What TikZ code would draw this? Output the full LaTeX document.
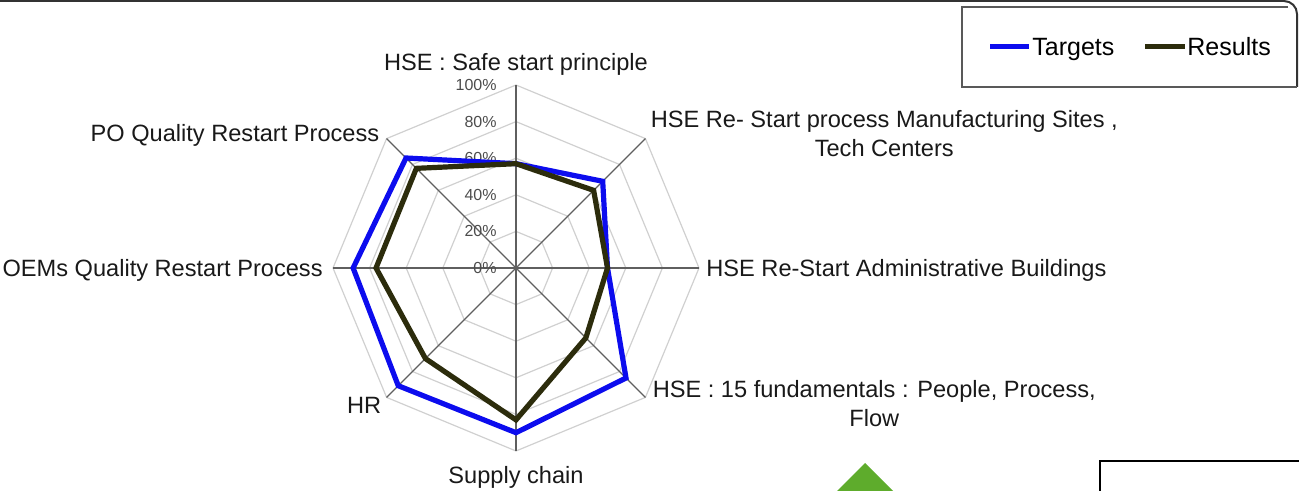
\documentclass[tikz,border=0pt]{standalone}
\usepackage{fontspec}
\setmainfont{Liberation Sans}
\usetikzlibrary{positioning}
\definecolor{tgtblue}{RGB}{12,12,238}
\definecolor{resolive}{RGB}{44,44,12}
\definecolor{gridgray}{RGB}{208,208,208}
\definecolor{axisgray}{RGB}{95,95,95}
\definecolor{leafgreen}{RGB}{94,172,44}
\tikzset{
  catlabel/.style={font=\fontsize{11.8}{14.5}\selectfont, text=black!90, inner sep=0pt, align=center},
  pctlabel/.style={font=\fontsize{8}{9}\selectfont, text=black!70, anchor=east, inner sep=0pt},
  series/.style={line width=2.6pt, miter limit=4},
  legtext/.style={font=\fontsize{12.5}{15}\selectfont, inner sep=0pt, anchor=base west},
}
\begin{document}
\begin{tikzpicture}[x=0.5pt,y=0.5pt]
\useasboundingbox (0,0) rectangle (1299,491);
\def\R{183}
\coordinate (c) at (516,223);
% rings
\foreach \k in {1,...,5}{
  \pgfmathsetmacro\r{\k*\R/5}
  \draw[gridgray, line width=0.6pt, shift={(c)}] (90:\r)--(45:\r)--(0:\r)--(-45:\r)--(-90:\r)--(-135:\r)--(180:\r)--(135:\r)--cycle;
}
% axes
\foreach \a/\n in {90/N,45/NE,0/E,-45/SE,-90/S,-135/SW,180/W,135/NW}
  \draw[axisgray, line width=0.6pt] (c)--++(\a:\R) coordinate (e\n);
% percent scale
\foreach \k/\p in {0/0,1/20,2/40,3/60,4/80,5/100}
  \path (c) ++(-19,{\k*\R/5}) node[pctlabel] (pct\p) {\p\%};
% data
\draw[series, tgtblue, shift={(c)}] (90:{0.57*\R})--(45:{0.67*\R})--(0:{0.50*\R})--(-45:{0.85*\R})--(-90:{0.90*\R})--(-135:{0.91*\R})--(180:{0.89*\R})--(135:{0.85*\R})--cycle;
\draw[series, resolive, shift={(c)}] (90:{0.57*\R})--(45:{0.60*\R})--(0:{0.50*\R})--(-45:{0.54*\R})--(-90:{0.83*\R})--(-135:{0.70*\R})--(180:{0.765*\R})--(135:{0.77*\R})--cycle;
% category labels
\node[catlabel, above=4.5pt of eN] (lN) {HSE : Safe start principle};
\node[catlabel, right=2.5pt of eNE, yshift=2.75pt] (lNE) {HSE Re- Start process Manufacturing Sites ,\\Tech Centers};
\node[catlabel, right=3.5pt of eE, yshift=-1pt] (lE) {HSE Re-Start Administrative Buildings};
\node[catlabel, right=3.5pt of eSE, yshift=-3pt] (lSE) {HSE : 15 fundamentals : People, Process,\\Flow};
\node[catlabel, below=7.5pt of eS] (lS) {Supply chain};
\node[catlabel, left=2.5pt of eSW, yshift=-4pt] (lSW) {HR};
\node[catlabel, left=5pt of eW, yshift=-1pt] (lW) {OEMs Quality Restart Process};
\node[catlabel, left=3.5pt of eNW, yshift=1.5pt] (lNW) {PO Quality Restart Process};
% legend
\draw[black!80, line width=1pt] (0,490)--(1284,490) arc[start angle=90, end angle=0, radius=13]--(1297,404);
\draw[black!65, line width=0.6pt] (1288,484)--(962,484)--(962,404)--(1297,404);
\coordinate (tA) at (990,444); \coordinate (tB) at (1029,444);
\coordinate (rA) at (1145,444); \coordinate (rB) at (1185,444);
\draw[tgtblue, line width=2.5pt] (tA)--(tB);
\draw[resolive, line width=2.5pt] (rA)--(rB);
\node[legtext] (ltgt) at ([xshift=1.5pt, yshift=-4.5pt]tB) {Targets};
\node[legtext] (lres) at ([xshift=1pt, yshift=-4.5pt]rB) {Results};
% cut-off shapes at the bottom
\fill[leafgreen] (837,0)--(865,28)--(893,0)--cycle;
\draw[black, line width=1pt] (1100,-2)--(1100,30)--(1302,30);
\end{tikzpicture}
\end{document}
